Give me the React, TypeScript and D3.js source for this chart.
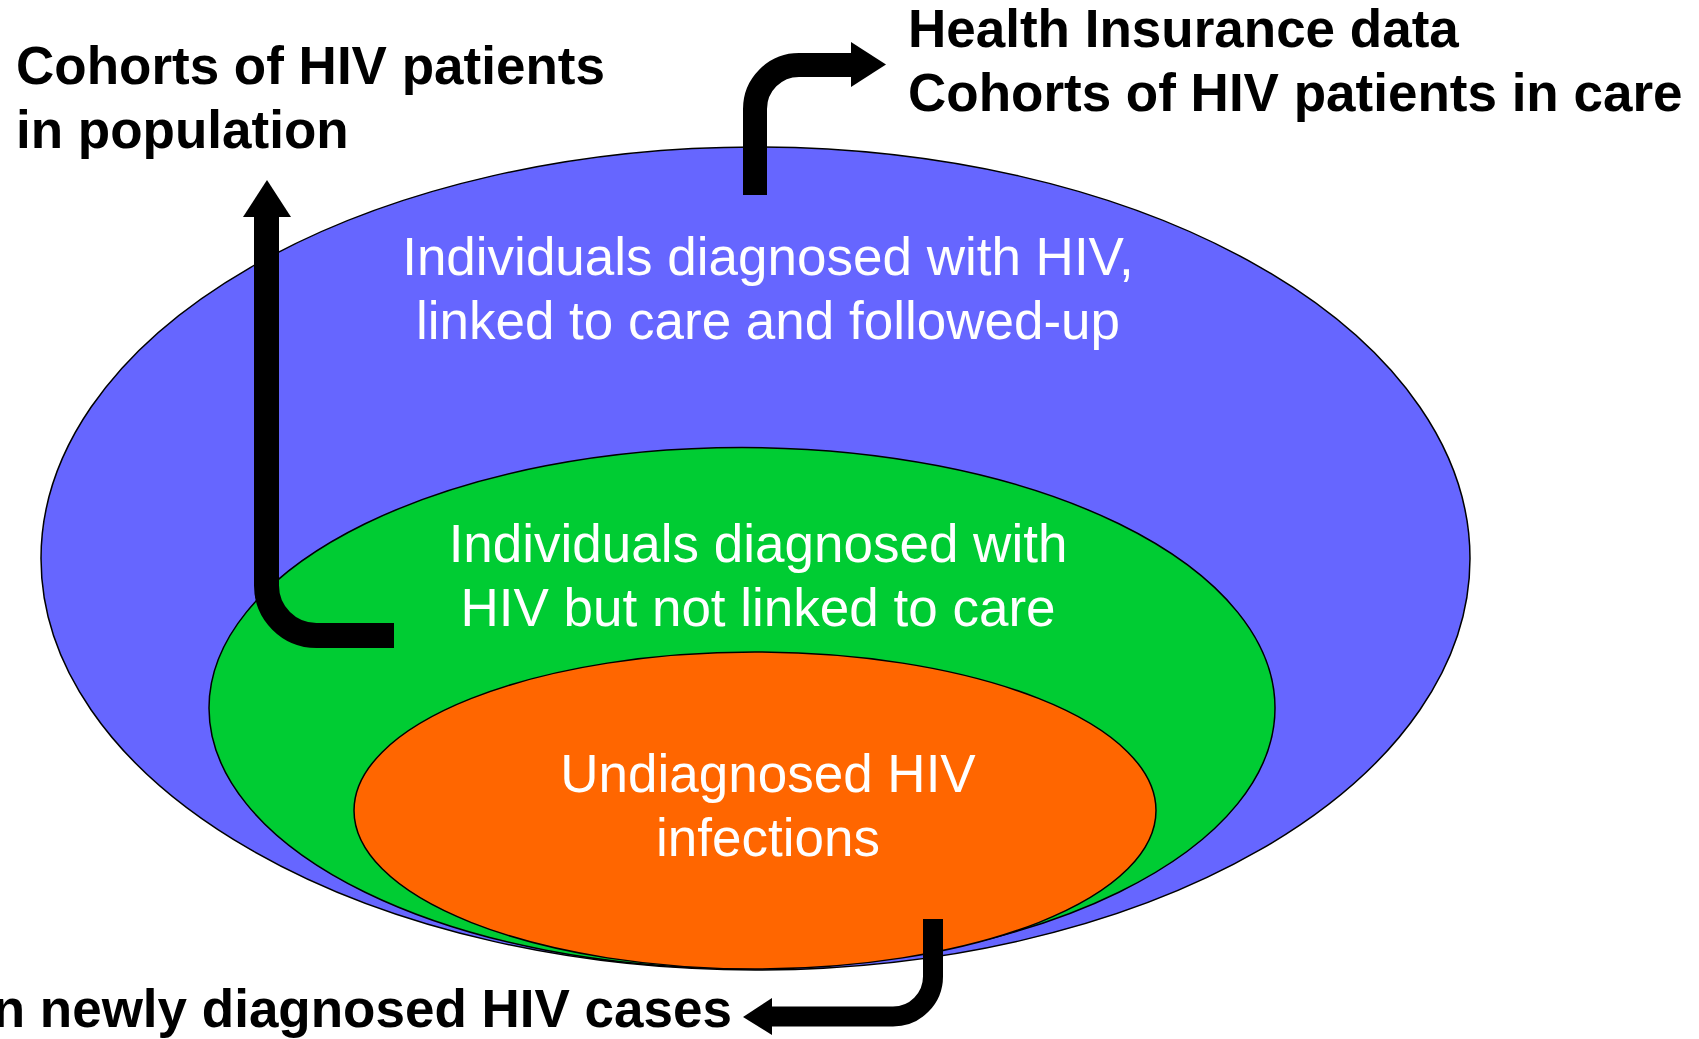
import React, { useEffect, useRef } from "react";
import * as d3 from "d3";

// nested population groups, outermost first
const groups = ["diagnosed-linked", "diagnosed-not-linked", "undiagnosed"];
const groupLabels = [
  ["Individuals diagnosed with HIV,", "linked to care and followed-up"],
  ["Individuals diagnosed with", "HIV but not linked to care"],
  ["Undiagnosed HIV", "infections"],
];
const sourceLabels = [
  ["Health Insurance data", "Cohorts of HIV patients in care"],
  ["Cohorts of HIV patients", "in population"],
  ["on newly diagnosed HIV cases"],
];

const W = 1699;
const H = 1039;

export default function App() {
  const ref = useRef<SVGSVGElement | null>(null);

  useEffect(() => {
    const svg = d3.select(ref.current).attr("width", W).attr("height", H);
    svg.selectAll("*").remove();

    const colors = ["#6666ff", "#00cc33", "#ff6600"];
    // ellipse geometry: cx, cy, rx, ry
    const shapes = [
      { cx: 755.5, cy: 558.5, rx: 714.5, ry: 411.5 },
      { cx: 742, cy: 708, rx: 533, ry: 260.5 },
      { cx: 755, cy: 810.5, rx: 401, ry: 158.5 },
    ];
    const labelPos = [
      { x: 768, y: 275 },
      { x: 758, y: 562 },
      { x: 768, y: 792 },
    ];

    svg
      .selectAll(".ring")
      .data(groups)
      .join("ellipse")
      .attr("class", "ring")
      .attr("cx", (_, i) => shapes[i].cx)
      .attr("cy", (_, i) => shapes[i].cy)
      .attr("rx", (_, i) => shapes[i].rx)
      .attr("ry", (_, i) => shapes[i].ry)
      .attr("fill", (_, i) => colors[i])
      .attr("stroke", "#000")
      .attr("stroke-width", 1.5);

    const font = "'Liberation Sans', Arial, Helvetica, sans-serif";
    const lineH = 63.5;

    groups.forEach((g, i) => {
      const t = svg
        .append("text")
        .attr("text-anchor", "middle")
        .attr("font-family", font)
        .attr("font-size", 53)
        .attr("fill", "#fff");
      groupLabels[i].forEach((s, j) =>
        t
          .append("tspan")
          .attr("x", labelPos[i].x)
          .attr("y", labelPos[i].y + j * lineH)
          .text(s)
      );
    });

    // arrows
    const arrow = (
      pts: [number, number][],
      r: number,
      w: number,
      head: [number, number][]
    ) => {
      const p = d3.path();
      p.moveTo(pts[0][0], pts[0][1]);
      p.arcTo(pts[1][0], pts[1][1], pts[2][0], pts[2][1], r);
      p.lineTo(pts[2][0], pts[2][1]);
      svg
        .append("path")
        .attr("d", p.toString())
        .attr("fill", "none")
        .attr("stroke", "#000")
        .attr("stroke-width", w);
      svg
        .append("path")
        .attr("d", d3.line()(head) + "Z")
        .attr("fill", "#000");
    };

    // up to insurance data
    arrow(
      [
        [755, 195],
        [755, 65],
        [852, 65],
      ],
      44,
      24,
      [
        [851, 42],
        [886, 64.5],
        [851, 87],
      ]
    );
    // up to population cohorts
    arrow(
      [
        [394, 635.5],
        [266.5, 635.5],
        [266.5, 216],
      ],
      50,
      25,
      [
        [243, 217],
        [267, 180],
        [291, 217],
      ]
    );
    // down to surveillance
    arrow(
      [
        [933, 919],
        [933, 1016.5],
        [771, 1016.5],
      ],
      40,
      20,
      [
        [772, 998],
        [743, 1017],
        [772, 1035],
      ]
    );

    const srcPos = [
      { x: 908, y: 47, anchor: "start" },
      { x: 16, y: 84, anchor: "start" },
      { x: 732, y: 1027, anchor: "end" },
    ];
    sourceLabels.forEach((lines, i) => {
      const t = svg
        .append("text")
        .attr("text-anchor", srcPos[i].anchor)
        .attr("font-family", font)
        .attr("font-weight", "bold")
        .attr("font-size", 53)
        .attr("fill", "#000");
      lines.forEach((s, j) =>
        t
          .append("tspan")
          .attr("x", srcPos[i].x)
          .attr("y", srcPos[i].y + j * 64)
          .text(s)
      );
    });
  }, []);

  return (
    <svg
      ref={ref}
      style={{ position: "absolute", left: 0, top: 0, display: "block", background: "#fff" }}
    />
  );
}
